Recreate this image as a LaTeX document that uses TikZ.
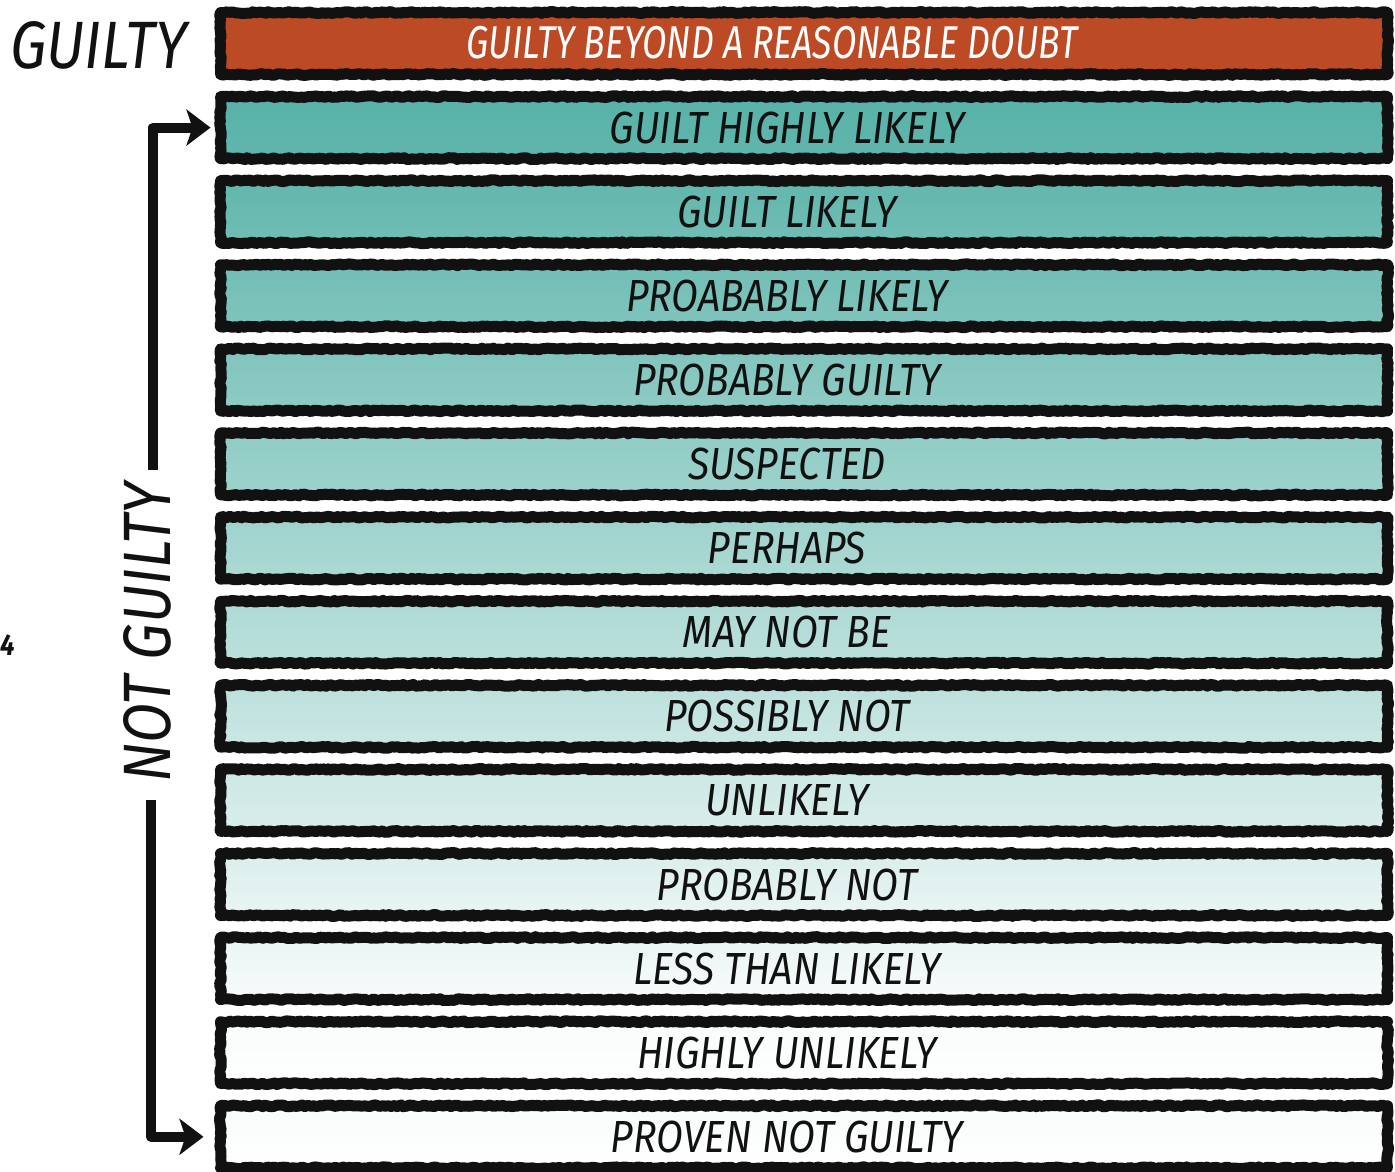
\documentclass[tikz,border=0pt]{standalone}
\usepackage{fontspec}
\newfontfamily\hand{Fira Sans}[FakeStretch=0.87]
\newfontfamily\handred{Fira Sans}[FakeStretch=0.775]
\usetikzlibrary{arrows.meta,decorations.pathmorphing}
\definecolor{tealbase}{RGB}{88,178,168}
\definecolor{redbar}{RGB}{188,74,36}
\definecolor{inkblack}{RGB}{17,17,17}
\begin{document}
\begin{tikzpicture}[x=1pt,y=-1pt,
  barbox/.style={draw=inkblack, line width=11pt, line join=round,
    minimum width=1167pt, minimum height=62pt, inner sep=0pt, outer sep=0pt,
    decorate, decoration={random steps, segment length=3pt, amplitude=0.9pt}},
  bartext/.style={font=\hand\itshape\fontsize{45}{45}\selectfont, text=inkblack,
    inner sep=0pt, anchor=center},
  sidetext/.style={font=\hand\itshape\fontsize{67}{67}\selectfont, text=inkblack,
    inner sep=0pt},
  arrowline/.style={draw=inkblack, line width=10pt, line join=round,
    -{Stealth[length=24pt, width=36pt, inset=6pt]}}
]
\useasboundingbox (0,0) rectangle (1395,1172);
\fill[white] (0,0) rectangle (1395,1172);

% top red bar
\node[barbox, fill=redbar] (b0) at (804,43.5) {};
\node[bartext, text=white, font=\handred\itshape\fontsize{46}{46}\selectfont] (t0) at (772,43) {GUILTY BEYOND A REASONABLE DOUBT};

% graded bars
\foreach \i/\txt in {1/GUILT HIGHLY LIKELY, 2/GUILT LIKELY, 3/PROABABLY LIKELY,
  4/PROBABLY GUILTY, 5/SUSPECTED, 6/PERHAPS, 7/MAY NOT BE, 8/POSSIBLY NOT,
  9/UNLIKELY, 10/PROBABLY NOT, 11/LESS THAN LIKELY, 12/HIGHLY UNLIKELY,
  13/PROVEN NOT GUILTY}{
  \pgfmathsetmacro{\yy}{43.5+84.1*\i}
  \pgfmathtruncatemacro{\ff}{max(0,100-(\i-1)*100/11)}
  \pgfmathtruncatemacro{\ft}{min(100,\ff+4)}
  \pgfmathtruncatemacro{\fb}{max(0,\ff-5)}
  \node[barbox, top color=tealbase!\ft!white, bottom color=tealbase!\fb!white]
    (b\i) at (804,\yy) {};
  \node[bartext] (t\i) at (787,\yy) {\txt};
}

% side labels
\node[sidetext, anchor=west] (guilty) at (10,45) {GUILTY};
\node[sidetext, rotate=90] (notguilty) at (147,633) {NOT GUILTY};
\node[font=\hand\bfseries\itshape\fontsize{30}{30}\selectfont, text=inkblack, inner sep=0pt, anchor=west] (four) at (0,645) {4};

% arrows
\coordinate (atop) at (153,470);
\coordinate (abot) at (151,800);
\draw[arrowline] (atop) |- ([xshift=-10pt]b1.west);
\draw[arrowline] (abot) |- ([xshift=-17pt]b13.west);
\end{tikzpicture}
\end{document}
